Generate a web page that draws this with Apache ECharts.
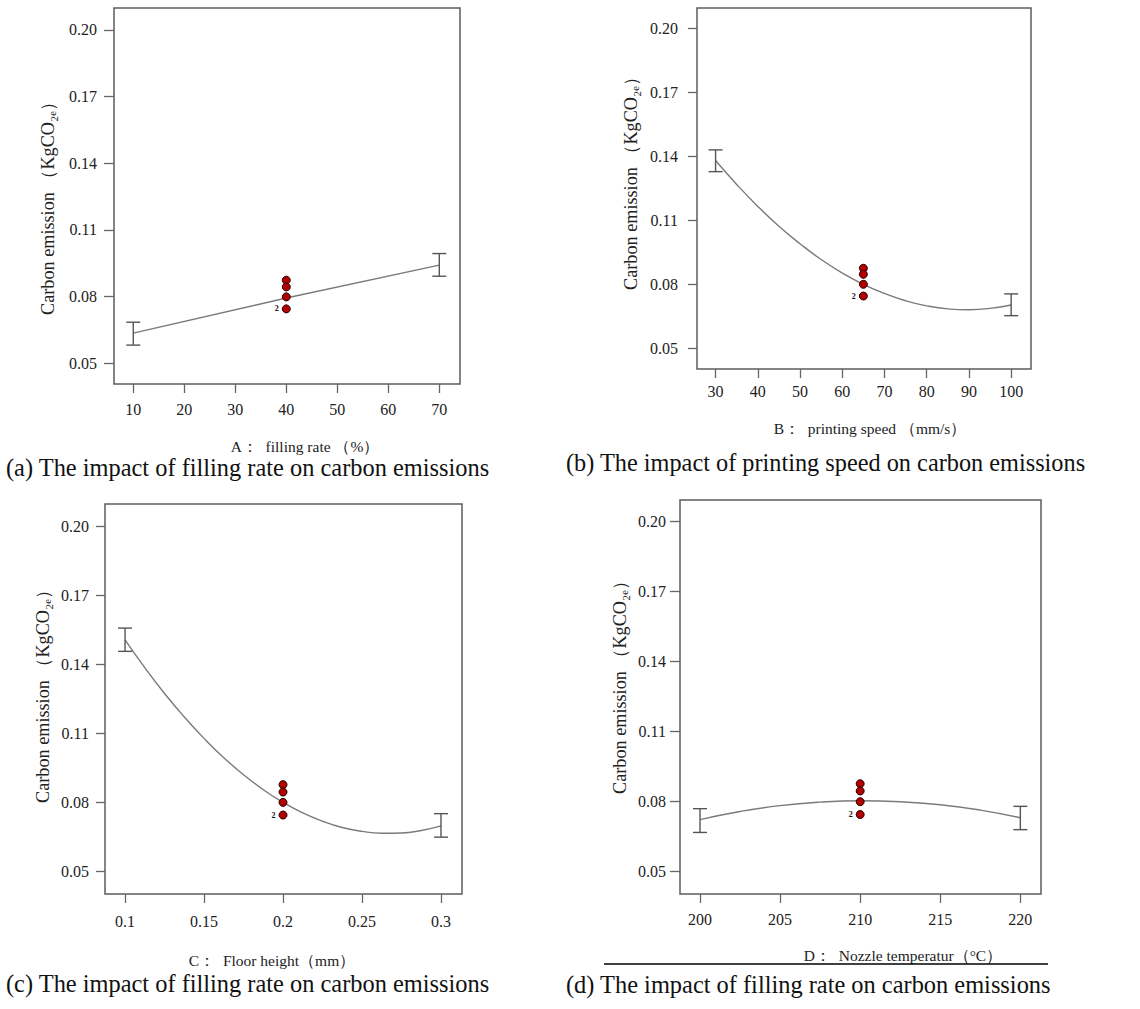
<!DOCTYPE html>
<html>
<head>
<meta charset="utf-8">
<script src="https://cdn.jsdelivr.net/npm/echarts@6/dist/echarts.min.js"></script>
<style>
html,body{margin:0;padding:0;background:#fff;}
#chart{width:1140px;height:1009px;}
</style>
</head>
<body>
<div id="chart"></div>
<script>
// ---------- shared ----------
const yTicks = [0.05, 0.08, 0.11, 0.14, 0.17, 0.20];
const yName = 'Carbon emission （KgCO₂ₑ）';

// ---------- panel (a): filling rate ----------
const aXTicks = [10, 20, 30, 40, 50, 60, 70];
const aCurveX = [10, 40, 70];
const aCurveY = [0.0635, 0.0793, 0.0941];
const aErrX = [10, 70];
const aErrLow = [0.0581, 0.0891];
const aErrHigh = [0.0684, 0.0993];
const aPointX = 40;
const aPointY = [0.0873, 0.0843, 0.0798, 0.0744];
const aXTitle = 'A：  filling rate （%）';
const aCaption = '(a) The impact of filling rate on carbon emissions';

// ---------- panel (b): printing speed ----------
const bXTicks = [30, 40, 50, 60, 70, 80, 90, 100];
const bCurveX = [30, 35, 40, 45, 50, 55, 60, 65, 70, 75, 80, 85, 90, 95, 100];
const bCurveY = [0.1380, 0.1268, 0.1165, 0.1072, 0.0990, 0.0916, 0.0853, 0.0800, 0.0757, 0.0723, 0.0699, 0.0685, 0.0681, 0.0687, 0.0703];
const bErrX = [30, 100];
const bErrLow = [0.1328, 0.0653];
const bErrHigh = [0.1430, 0.0755];
const bPointX = 65;
const bPointY = [0.0875, 0.0847, 0.0800, 0.0745];
const bXTitle = 'B：  printing speed （mm/s）';
const bCaption = '(b) The impact of printing speed on carbon emissions';

// ---------- panel (c): floor height ----------
const cXTicks = [0.1, 0.15, 0.2, 0.25, 0.3];
const cCurveX = [0.1, 0.1125, 0.125, 0.1375, 0.15, 0.1625, 0.175, 0.1875, 0.2, 0.2125, 0.225, 0.2375, 0.25, 0.2625, 0.275, 0.2875, 0.3];
const cCurveY = [0.1506, 0.1385, 0.1273, 0.1171, 0.1078, 0.0994, 0.0920, 0.0855, 0.0800, 0.0754, 0.0718, 0.0691, 0.0674, 0.0666, 0.0667, 0.0678, 0.0698];
const cErrX = [0.1, 0.3];
const cErrLow = [0.1456, 0.0649];
const cErrHigh = [0.1557, 0.0751];
const cPointX = 0.2;
const cPointY = [0.0877, 0.0845, 0.0800, 0.0745];
const cXTitle = 'C：  Floor height（mm）';
const cCaption = '(c) The impact of filling rate on carbon emissions';

// ---------- panel (d): nozzle temperature ----------
const dXTicks = [200, 205, 210, 215, 220];
const dCurveX = [200, 202.5, 205, 207.5, 210, 212.5, 215, 217.5, 220];
const dCurveY = [0.0722, 0.0757, 0.0782, 0.0797, 0.0803, 0.0799, 0.0786, 0.0763, 0.0730];
const dErrX = [200, 220];
const dErrLow = [0.0667, 0.0679];
const dErrHigh = [0.0769, 0.0779];
const dPointX = 210;
const dPointY = [0.0876, 0.0845, 0.0799, 0.0744];
const dXTitle = 'D：  Nozzle temperatur（°C）';
const dCaption = '(d) The impact of filling rate on carbon emissions';

const repLabel = '2';

// ---------- layout ----------
const SERIF = 'Liberation Serif';
const panels = [
  {grid:{left:114, top:8, width:346, height:376}, xMin:6.22, xMax:74.06, yMin:0.0406, yMax:0.2098,
   xTicks:aXTicks, cx:aCurveX, cy:aCurveY, smooth:false, ex:aErrX, el:aErrLow, eh:aErrHigh, px:aPointX, py:aPointY,
   xLabMargin:17, yLabMargin:17, yTickLen:10, xFmt:v=>String(v),
   yNamePos:[48, 204], xTitle:aXTitle, xTitlePos:[305, 446], caption:aCaption, capPos:[6, 467], capSize:24.4},
  {grid:{left:697, top:8, width:334, height:361}, xMin:25.6, xMax:104.7, yMin:0.0403, yMax:0.2095,
   xTicks:bXTicks, cx:bCurveX, cy:bCurveY, smooth:true, ex:bErrX, el:bErrLow, eh:bErrHigh, px:bPointX, py:bPointY,
   xLabMargin:14, yLabMargin:19, yTickLen:9, xFmt:v=>String(v),
   yNamePos:[631, 179], xTitle:bXTitle, xTitlePos:[870, 428], caption:bCaption, capPos:[566, 462], capSize:24.3},
  {grid:{left:105, top:504, width:357, height:390}, xMin:0.0873, xMax:0.3133, yMin:0.0402, yMax:0.2096,
   xTicks:cXTicks, cx:cCurveX, cy:cCurveY, smooth:true, ex:cErrX, el:cErrLow, eh:cErrHigh, px:cPointX, py:cPointY,
   xLabMargin:19, yLabMargin:16, yTickLen:9, xFmt:v=>String(+v.toFixed(2)),
   yNamePos:[43, 692], xTitle:cXTitle, xTitlePos:[272, 960], caption:cCaption, capPos:[6, 983], capSize:24.4},
  {grid:{left:680, top:500, width:361, height:394}, xMin:198.75, xMax:221.29, yMin:0.0403, yMax:0.2093,
   xTicks:dXTicks, cx:dCurveX, cy:dCurveY, smooth:true, ex:dErrX, el:dErrLow, eh:dErrHigh, px:dPointX, py:dPointY,
   xLabMargin:17, yLabMargin:14, yTickLen:10, xFmt:v=>String(v),
   yNamePos:[620, 683], xTitle:dXTitle, xTitlePos:[903, 955], caption:dCaption, capPos:[566, 984], capSize:24.4}
];

const chart = echarts.init(document.getElementById('chart'), null, {renderer:'svg'});

const grids = [], xAxes = [], yAxes = [], series = [], graphics = [];

function errRender(params, api) {
  const x = api.value(0), lo = api.value(1), hi = api.value(2);
  const pLo = api.coord([x, lo]), pHi = api.coord([x, hi]);
  const hw = 7;
  const st = {stroke:'#555', lineWidth:1.4};
  return {type:'group', children:[
    {type:'line', shape:{x1:pLo[0], y1:pLo[1], x2:pHi[0], y2:pHi[1]}, style:st},
    {type:'line', shape:{x1:pLo[0]-hw, y1:pLo[1], x2:pLo[0]+hw, y2:pLo[1]}, style:st},
    {type:'line', shape:{x1:pHi[0]-hw, y1:pHi[1], x2:pHi[0]+hw, y2:pHi[1]}, style:st}
  ]};
}

const labRich = {t:{fontFamily:SERIF, fontSize:16, color:'#222'}};

panels.forEach((p, i) => {
  grids.push(Object.assign({show:true, borderColor:'#5c5c5c', borderWidth:1.5, backgroundColor:'transparent'}, p.grid));
  xAxes.push({
    gridIndex:i, type:'value', min:p.xMin, max:p.xMax,
    axisLine:{show:false}, splitLine:{show:false},
    axisTick:{show:true, inside:false, length:9, customValues:p.xTicks, lineStyle:{color:'#666', width:1.3}},
    axisLabel:{customValues:p.xTicks, margin:p.xLabMargin, fontFamily:SERIF, fontSize:16, color:'#222',
      formatter:v=>'{t|' + p.xFmt(v) + '}', rich:labRich}
  });
  yAxes.push({
    gridIndex:i, type:'value', min:p.yMin, max:p.yMax,
    axisLine:{show:false}, splitLine:{show:false},
    axisTick:{show:true, inside:false, length:p.yTickLen, customValues:yTicks, lineStyle:{color:'#666', width:1.3}},
    axisLabel:{customValues:yTicks, margin:p.yLabMargin, fontFamily:SERIF, fontSize:16, color:'#222',
      formatter:v=>'{t|' + v.toFixed(2) + '}', rich:labRich}
  });
  series.push({
    type:'line', xAxisIndex:i, yAxisIndex:i, smooth:p.smooth, showSymbol:false, z:2,
    lineStyle:{color:'#7a7a7a', width:1.4}, data:p.cx.map((x, k) => [x, p.cy[k]])
  });
  series.push({
    type:'custom', xAxisIndex:i, yAxisIndex:i, renderItem:errRender, z:3, clip:false,
    encode:{x:0, y:[1, 2]}, data:p.ex.map((x, k) => [x, p.el[k], p.eh[k]])
  });
  series.push({
    type:'scatter', xAxisIndex:i, yAxisIndex:i, symbol:'circle', symbolSize:8, z:4,
    itemStyle:{color:'#b00000', borderColor:'#2a0000', borderWidth:1, opacity:1},
    data:p.py.map((y, k) => k === p.py.length - 1
      ? {value:[p.px, y], label:{show:true, position:'left', distance:3, formatter:repLabel, fontSize:8, fontWeight:'bold', color:'#111', fontFamily:SERIF}}
      : [p.px, y])
  });
  graphics.push({type:'text', x:p.yNamePos[0], y:p.yNamePos[1], rotation:Math.PI/2,
    style:{text:yName, fontFamily:SERIF, fontSize:18.2, fill:'#222', align:'center', verticalAlign:'middle'}});
  graphics.push({type:'text', x:p.xTitlePos[0], y:p.xTitlePos[1],
    style:{text:p.xTitle, fontFamily:SERIF, fontSize:15.5, fill:'#222', align:'center', verticalAlign:'middle'}});
  graphics.push({type:'text', x:p.capPos[0], y:p.capPos[1],
    style:{text:p.caption, fontFamily:SERIF, fontSize:p.capSize, fill:'#111', align:'left', verticalAlign:'middle'}});
});

graphics.push({type:'line', shape:{x1:604, y1:964, x2:1048, y2:964}, style:{stroke:'#000', lineWidth:1.5}});

chart.setOption({
  animation:false,
  backgroundColor:'#ffffff',
  textStyle:{fontFamily:SERIF},
  grid:grids, xAxis:xAxes, yAxis:yAxes, series:series,
  graphic:{elements:graphics}
});
</script>
</body>
</html>
